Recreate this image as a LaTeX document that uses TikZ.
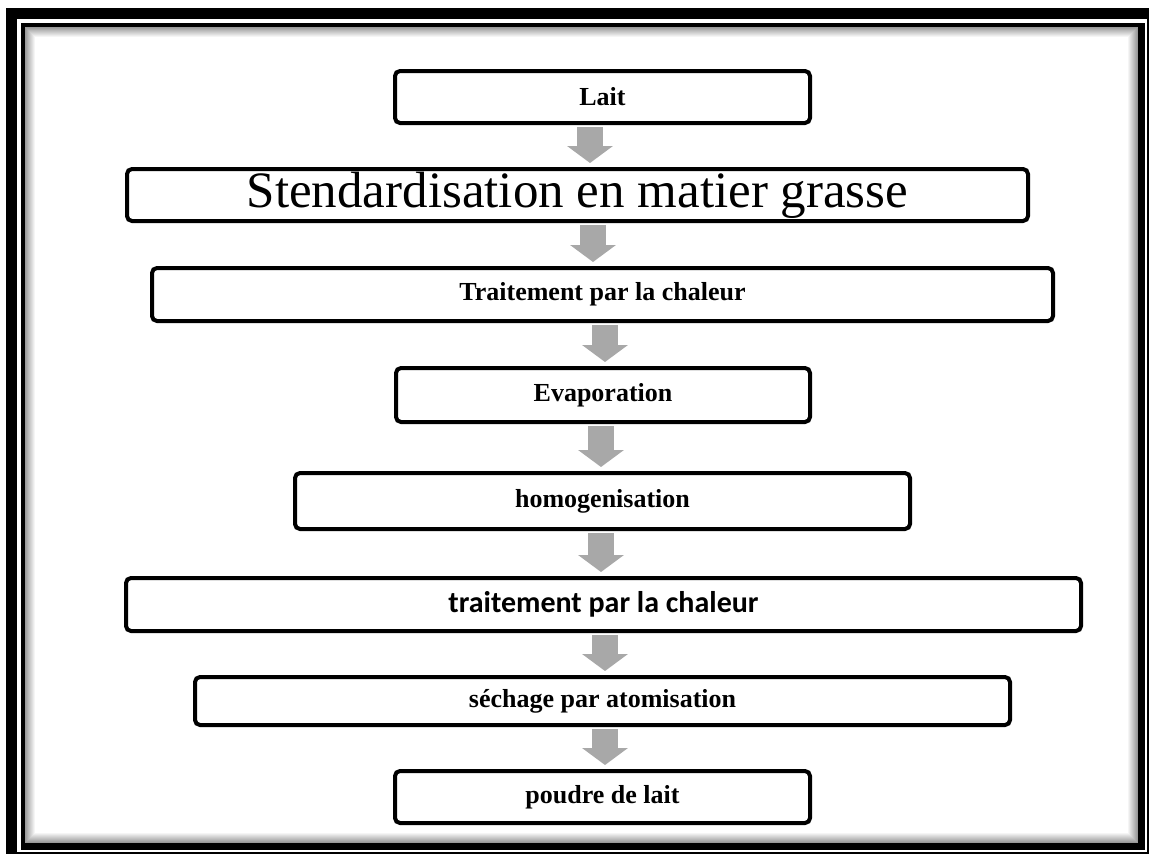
\documentclass[tikz,border=0pt]{standalone}
\usepackage{fontspec}
\setmainfont{Liberation Serif}
\newfontfamily\calfont{Carlito}
\usetikzlibrary{arrows.meta}
\definecolor{arrowgray}{HTML}{A8A8A8}
\tikzset{
  stepbox/.style={draw=black, line width=4pt, rounded corners=5pt, fill=white,
    inner sep=0pt, anchor=center, font=\bfseries\fontsize{26}{30}\selectfont},
  blockarrow/.style={draw=arrowgray, line width=26pt, line cap=butt,
    -{Triangle[width=45pt,length=17pt]}, shorten <=2pt, shorten >=4pt}
}
\begin{document}
\begin{tikzpicture}[x=1pt,y=-1pt]
\useasboundingbox (0,0) rectangle (1150,857);
\fill[white] (0,0) rectangle (1150,857);
% frame
\fill[black] (6,8) rectangle (1149,854);
\fill[white] (17,19) rectangle (1147,852);
\fill[black] (21,23) rectangle (1145,850);
\fill[white] (25,27) rectangle (1138,843);
\foreach \i [evaluate=\i as \c using 40-4*\i] in {0,...,9} {
  \draw[black!\c, line width=1.05pt] (25+\i+0.5,27+\i+0.5) rectangle (1138-\i-0.5,843-\i-0.5);
}
% boxes
\node[stepbox, minimum width=415, minimum height=52] (l1) at (602.5,97) {Lait};
\node[stepbox, minimum width=901, minimum height=52, font=\fontsize{51}{56}\selectfont] (l2) at (577.5,195) {Stendardisation en matier grasse};
\node[stepbox, minimum width=901, minimum height=53] (l3) at (602.5,294.5) {Traitement par la chaleur};
\node[stepbox, minimum width=414, minimum height=54] (l4) at (603,395) {Evaporation};
\node[stepbox, minimum width=615, minimum height=56] (l5) at (602.5,501) {homogenisation};
\node[stepbox, minimum width=955, minimum height=53, font=\calfont\bfseries\fontsize{30}{34}\selectfont] (l6) at (603.5,604.5) {traitement par la chaleur};
\node[stepbox, minimum width=815, minimum height=48] (l7) at (602.5,701) {séchage par atomisation};
\node[stepbox, minimum width=415, minimum height=52] (l8) at (602.5,797) {poudre de lait};
% arrows
\draw[blockarrow] ([xshift=-12.5pt]l1.south) -- ([xshift=12.5pt]l2.north);
\draw[blockarrow] ([xshift=15.5pt]l2.south) -- ([xshift=-9.5pt]l3.north);
\draw[blockarrow] ([xshift=2.5pt]l3.south) -- ([xshift=2pt]l4.north);
\draw[blockarrow] ([xshift=-2pt]l4.south) -- ([xshift=-1.5pt]l5.north);
\draw[blockarrow] ([xshift=-1.5pt]l5.south) -- ([xshift=-2.5pt]l6.north);
\draw[blockarrow] ([xshift=1.5pt]l6.south) -- ([xshift=2.5pt]l7.north);
\draw[blockarrow] ([xshift=2.5pt]l7.south) -- ([xshift=2.5pt]l8.north);
\end{tikzpicture}
\end{document}
